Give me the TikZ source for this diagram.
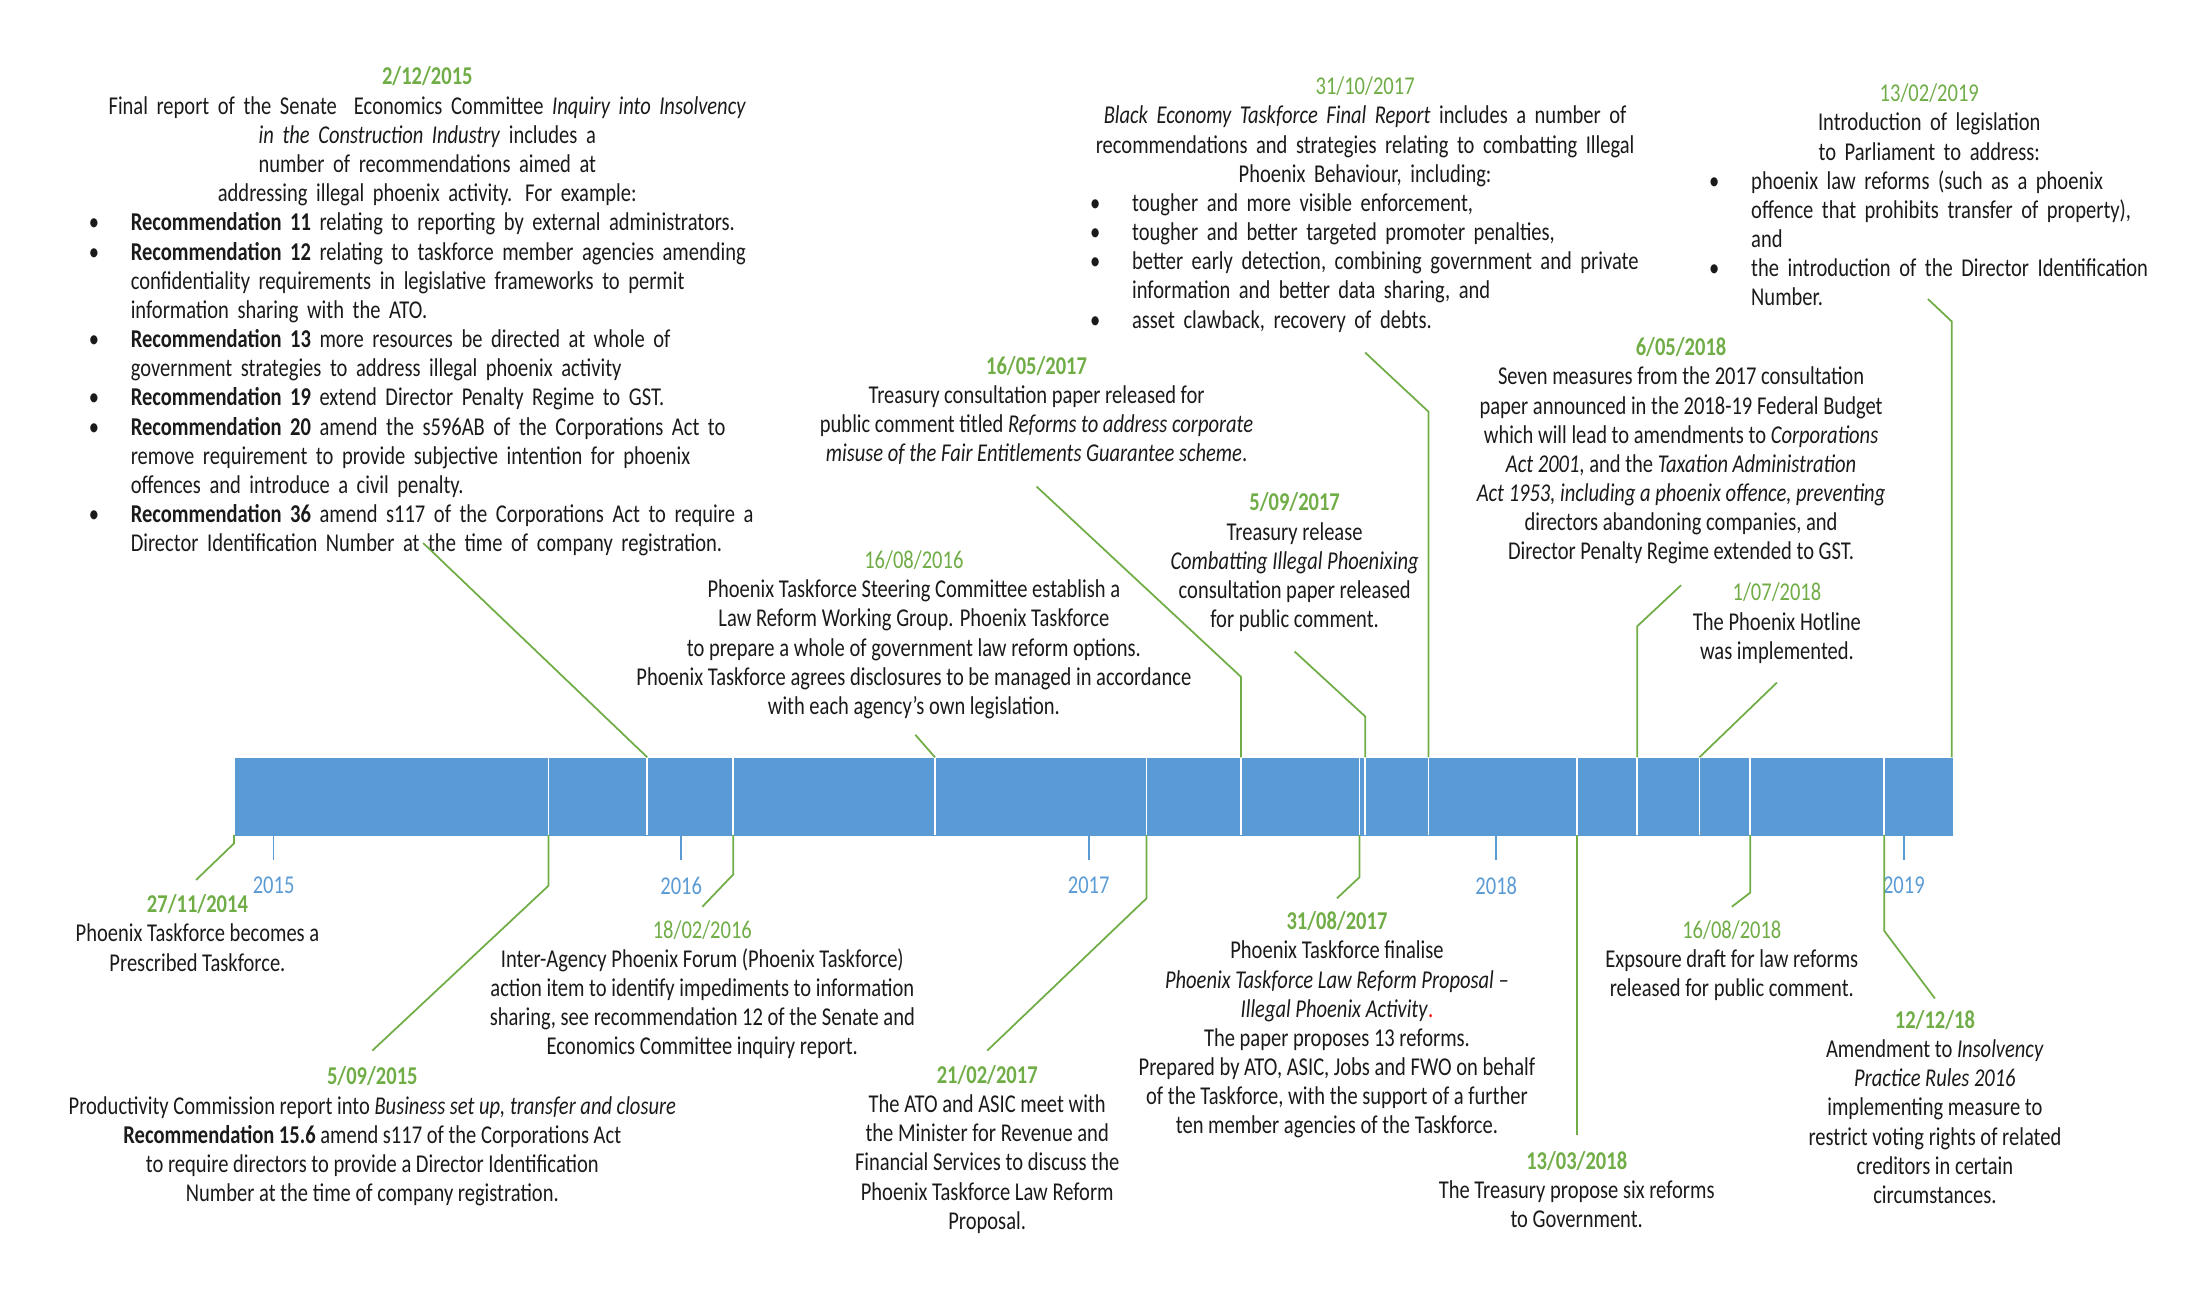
\documentclass[tikz,border=0pt]{standalone}
\usepackage{fontspec}
\setmainfont{Carlito}[FakeStretch=0.8]
\usepackage{tikz}
\usetikzlibrary{positioning,calc}
\definecolor{barblue}{HTML}{5B9BD5}
\definecolor{dategreen}{HTML}{70AD47}
\definecolor{txtgray}{HTML}{1A1A1A}
\newlength{\bind}
\setlength{\bind}{4.2mm}
\newcommand{\bl}[1]{\makebox[\linewidth][l]{\makebox[\bind][l]{\textbullet}#1}}
\newcommand{\cl}[1]{\makebox[\linewidth][l]{\hspace*{\bind}#1}}
\newcommand{\bd}[1]{{\color{dategreen}\textbf{#1}}}
\newcommand{\rd}[1]{{\color{dategreen}#1}}

\begin{document}
\begin{tikzpicture}[
    x=0.141mm, y=-0.141mm,
    bar/.style={fill=barblue, draw=none},
    divider/.style={draw=white, line width=0.5pt},
    leader/.style={draw=dategreen, line width=0.5pt},
    tick/.style={draw=barblue, line width=0.5pt},
    year/.style={text=barblue, font=\fontsize{7.3}{8.3}\selectfont},
    event/.style={align=center, inner sep=0pt, anchor=north, text=txtgray, font=\fontsize{7.3}{8.3}\selectfont}
]
    \useasboundingbox (0,0) rectangle (1560,922);
    % timeline bar
    \node[bar, minimum width=1218*0.141mm, minimum height=55*0.141mm, inner sep=0pt, anchor=north west] (tl) at (166,537) {};
    \foreach \xx in {389,459,520,663,813,880,964,968,1013,1118,1161,1205,1241,1336}
        \draw[divider] (\xx,537) -- (\xx,592);
    \foreach \xx/\yr in {194/2015,483/2016,772/2017,1061/2018,1350/2019} {
        \draw[tick] (\xx,592) -- (\xx,610);
        \node[year] (y\yr) at (\xx,628) {\yr};
    }

    % events above the bar
    \node[event, text width=67.7mm] (dec15) at (303,47) {\bd{2/12/2015}\\
        Final report of the Senate\ \ Economics Committee \emph{Inquiry into Insolvency}\\
        \emph{in the Construction Industry} includes a number of recommendations aimed at\\
        addressing illegal phoenix activity. For example:\\
        \bl{\textbf{Recommendation 11} relating to reporting by external administrators.}\\
        \bl{\textbf{Recommendation 12} relating to taskforce member agencies amending}\\
        \cl{confidentiality requirements in legislative frameworks to permit}\\
        \cl{information sharing with the ATO.}\\
        \bl{\textbf{Recommendation 13} more resources be directed at whole of}\\
        \cl{government strategies to address illegal phoenix activity}\\
        \bl{\textbf{Recommendation 19} extend Director Penalty Regime to GST.}\\
        \bl{\textbf{Recommendation 20} amend the s596AB of the Corporations Act to}\\
        \cl{remove requirement to provide subjective intention for phoenix}\\
        \cl{offences and introduce a civil penalty.}\\
        \bl{\textbf{Recommendation 36} amend s117 of the Corporations Act to require a}\\
        \cl{Director Identification Number at the time of company registration.}};
    \node[event] (aug16) at (648,390) {\rd{16/08/2016}\\
        Phoenix Taskforce Steering Committee establish a\\
        Law Reform Working Group. Phoenix Taskforce\\
        to prepare a whole of government law reform options.\\
        Phoenix Taskforce agrees disclosures to be managed in accordance\\
        with each agency’s own legislation.};
    \node[event] (may17) at (735,252) {\bd{16/05/2017}\\
        Treasury consultation paper released for\\
        public comment titled \emph{Reforms to address corporate}\\
        \emph{misuse of the Fair Entitlements Guarantee scheme}.};
    \node[event] (sep17) at (918,349) {\bd{5/09/2017}\\
        Treasury release\\
        \emph{Combatting Illegal Phoenixing}\\
        consultation paper released\\
        for public comment.};
    \node[event, text width=55mm] (oct17) at (968,54) {\rd{31/10/2017}\\
        \emph{Black Economy Taskforce Final Report} includes a number of\\
        recommendations and strategies relating to combatting Illegal\\
        Phoenix Behaviour, including:\\
        \bl{tougher and more visible enforcement,}\\
        \bl{tougher and better targeted promoter penalties,}\\
        \bl{better early detection, combining government and private}\\
        \cl{information and better data sharing, and}\\
        \bl{asset clawback, recovery of debts.}};
    \node[event, text width=44mm] (feb19) at (1368,59) {\rd{13/02/2019}\\
        Introduction of legislation to Parliament to address:\\
        \bl{phoenix law reforms (such as a phoenix}\\
        \cl{offence that prohibits transfer of property),}\\
        \cl{and}\\
        \bl{the introduction of the Director Identification}\\
        \cl{Number.}};
    \node[event] (may18) at (1192,239) {\bd{6/05/2018}\\
        Seven measures from the 2017 consultation\\
        paper announced in the 2018-19 Federal Budget\\
        which will lead to amendments to \emph{Corporations}\\
        \emph{Act 2001}, and the \emph{Taxation Administration}\\
        \emph{Act 1953, including a phoenix offence, preventing}\\
        directors abandoning companies, and\\
        Director Penalty Regime extended to GST.};
    \node[event] (jul18) at (1260,413) {\rd{1/07/2018}\\
        The Phoenix Hotline\\
        was implemented.};

    % events below the bar
    \node[event] (nov14) at (140,634) {\bd{27/11/2014}\\
        Phoenix Taskforce becomes a\\
        Prescribed Taskforce.};
    \node[event] (feb16) at (498,652) {\rd{18/02/2016}\\
        Inter-Agency Phoenix Forum (Phoenix Taskforce)\\
        action item to identify impediments to information\\
        sharing, see recommendation 12 of the Senate and\\
        Economics Committee inquiry report.};
    \node[event] (sep15) at (264,756) {\bd{5/09/2015}\\
        Productivity Commission report into \emph{Business set up, transfer and closure}\\
        \textbf{Recommendation 15.6} amend s117 of the Corporations Act\\
        to require directors to provide a Director Identification\\
        Number at the time of company registration.};
    \node[event] (feb17) at (700,755) {\bd{21/02/2017}\\
        The ATO and ASIC meet with\\
        the Minister for Revenue and\\
        Financial Services to discuss the\\
        Phoenix Taskforce Law Reform\\
        Proposal.};
    \node[event] (aug17) at (948,646) {\bd{31/08/2017}\\
        Phoenix Taskforce finalise\\
        \emph{Phoenix Taskforce Law Reform Proposal –}\\
        \emph{Illegal Phoenix Activity}{\color{red}.}\\
        The paper proposes 13 reforms.\\
        Prepared by ATO, ASIC, Jobs and FWO on behalf\\
        of the Taskforce, with the support of a further\\
        ten member agencies of the Taskforce.};
    \node[event] (mar18) at (1118,816) {\bd{13/03/2018}\\
        The Treasury propose six reforms\\
        to Government.};
    \node[event] (aug18) at (1228,652) {\rd{16/08/2018}\\
        Expsoure draft for law reforms\\
        released for public comment.};
    \node[event] (dec18) at (1372,716) {\bd{12/12/18}\\
        Amendment to \emph{Insolvency}\\
        \emph{Practice Rules 2016}\\
        implementing measure to\\
        restrict voting rights of related\\
        creditors in certain\\
        circumstances.};

    % leaders
    \draw[leader] (300,385) -- (459,537);
    \draw[leader] (649,521) -- (663,537);
    \draw[leader] (735,345) -- (880,480) -- (880,537);
    \draw[leader] (918,462) -- (968,508) -- (968,537);
    \draw[leader] (968,250) -- (1013,292) -- (1013,537);
    \draw[leader] (1367,212) -- (1384,228) -- (1384,537);
    \draw[leader] (1192,415) -- (1161,444) -- (1161,537);
    \draw[leader] (1260,484) -- (1205,537);
    \draw[leader] (166,592) -- (166,598) -- (139,624);
    \draw[leader] (520,592) -- (520,620) -- (498,643);
    \draw[leader] (389,592) -- (389,628) -- (264,745);
    \draw[leader] (813,592) -- (813,637) -- (700,745);
    \draw[leader] (964,592) -- (964,622) -- (948,637);
    \draw[leader] (1118,592) -- (1118,805);
    \draw[leader] (1241,592) -- (1241,633) -- (1228,643);
    \draw[leader] (1336,592) -- (1336,660) -- (1372,708);
\end{tikzpicture}
\end{document}
